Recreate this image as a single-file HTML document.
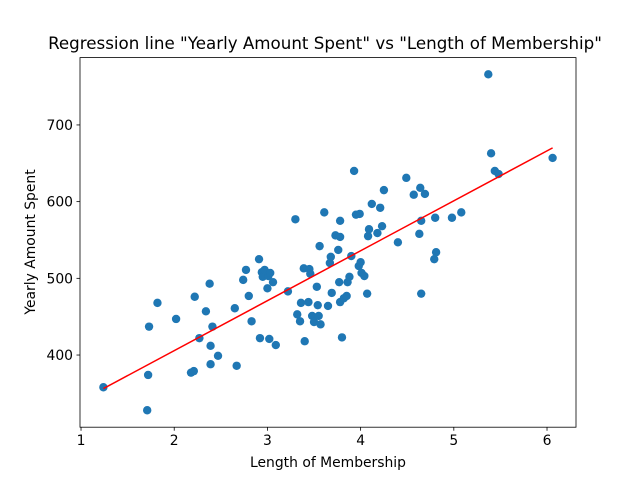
<!DOCTYPE html>
<html><head><meta charset="utf-8"><style>
body{margin:0;background:#fff}
svg{display:block;font-family:"DejaVu Sans","Liberation Sans",sans-serif}
</style></head><body>
<svg id="chart" width="640" height="480">
<rect width="640" height="480" fill="#fff"/>
<text x="325" y="49" font-size="16.7" text-anchor="middle">Regression line "Yearly Amount Spent" vs "Length of Membership"</text>
<text x="328" y="467" font-size="13.9" text-anchor="middle">Length of Membership</text>
<text x="0" y="0" font-size="13.9" text-anchor="middle" transform="translate(35,242) rotate(-90)">Yearly Amount Spent</text>
<g id="marks"></g>
<rect x="80" y="57.6" width="496" height="369.6" fill="none" stroke="#000" stroke-width="0.8"/>
</svg>
<script>
const xs=[1.24,1.72,1.71,1.73,1.82,2.02,2.18,2.21,2.22,2.27,2.34,2.38,2.39,2.39,2.41,2.47,2.65,2.67,2.74,2.77,2.80,2.83,2.91,2.92,2.94,2.95,2.97,3.01,3.00,3.02,3.03,3.06,3.09,3.22,3.30,3.32,3.35,3.36,3.39,3.40,3.44,3.45,3.46,3.48,3.50,3.53,3.54,3.55,3.57,3.56,3.61,3.65,3.67,3.68,3.69,3.73,3.76,3.77,3.78,3.78,3.78,3.80,3.82,3.85,3.86,3.88,3.90,3.93,3.95,3.99,3.98,4.00,4.01,4.04,4.07,4.08,4.09,4.12,4.18,4.21,4.23,4.25,4.40,4.49,4.57,4.63,4.64,4.65,4.65,4.69,4.79,4.80,4.81,4.98,5.08,5.37,5.40,5.44,5.48,6.06];
const ys=[358,374,328,437,468,447,377,379,476,422,457,493,412,388,437,399,461,386,498,511,477,444,525,422,508,502,511,503,487,421,507,495,413,483,577,453,444,468,513,418,469,512,506,451,443,489,465,451,440,542,586,464,520,528,481,556,537,495,554,575,469,423,474,477,495,502,529,640,583,584,516,521,507,503,480,555,564,597,559,592,568,615,547,631,609,558,618,480,575,610,525,579,534,579,586,766,663,640,636,657];
const xTicks=[1,2,3,4,5,6];
const yTicks=[400,500,600,700];
const X0=80,X1=576,Y0=427.2,Y1=57.6,xmin=0.989,xmax=6.311,ymin=305.9,ymax=787.8;
const sx=v=>X0+(v-xmin)/(xmax-xmin)*(X1-X0);
const sy=v=>Y0-(v-ymin)/(ymax-ymin)*(Y0-Y1);
const NS="http://www.w3.org/2000/svg",g=document.getElementById('marks');
function mk(t,a){const e=document.createElementNS(NS,t);for(const k in a)e.setAttribute(k,a[k]);g.appendChild(e);return e;}
xTicks.forEach(t=>{
 const l=mk('line',{x1:sx(t),x2:sx(t),y1:Y0,y2:Y0+3.5,stroke:'#000','stroke-width':0.8});
 
 
 const s=mk('text',{x:sx(t),y:Y0+18,'font-size':13.9,'text-anchor':'middle'});s.textContent=t;
 
 
});
yTicks.forEach(t=>{
 const l=mk('line',{x1:X0-3.5,x2:X0,y1:sy(t),y2:sy(t),stroke:'#000','stroke-width':0.8});
 
 
 const s=mk('text',{x:X0-7,y:sy(t)+5,'font-size':13.9,'text-anchor':'end'});s.textContent=t;
 
 
});
xs.forEach((x,i)=>{
 const c=mk('circle',{cx:sx(x),cy:sy(ys[i]),r:4.2,fill:'#1f77b4'});
 
 
});
const n=xs.length,mx=xs.reduce((a,b)=>a+b)/n,my=ys.reduce((a,b)=>a+b)/n;
let sxy=0,sxx=0;xs.forEach((x,i)=>{sxy+=(x-mx)*(ys[i]-my);sxx+=(x-mx)**2;});
const b=sxy/sxx,a=my-b*mx,lo=Math.min(...xs),hi=Math.max(...xs);
const rl=mk('line',{x1:sx(lo),y1:sy(a+b*lo),x2:sx(hi),y2:sy(a+b*hi),stroke:'#ff0000','stroke-width':1.5});


</script>
</body></html>
